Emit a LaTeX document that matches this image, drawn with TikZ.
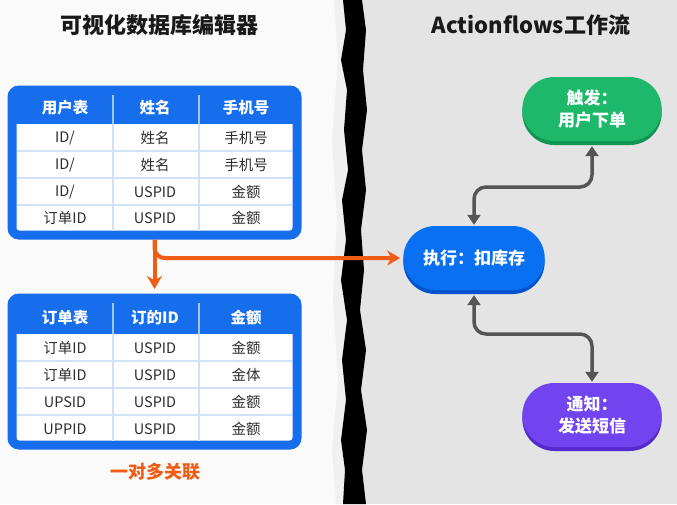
\documentclass[tikz,border=0pt]{standalone}
\usepackage{fontspec}
\setmainfont{Noto Sans CJK SC}
\usetikzlibrary{arrows.meta,shapes.misc,shadows}

\definecolor{tabblau}{RGB}{22,110,236}
\definecolor{zeilenlinie}{RGB}{208,226,250}
\definecolor{orangerot}{RGB}{240,92,20}
\definecolor{pfeilgrau}{RGB}{85,85,85}
\definecolor{gruen}{RGB}{30,184,106}
\definecolor{gruendunkel}{RGB}{16,150,82}
\definecolor{blau}{RGB}{10,112,242}
\definecolor{blaudunkel}{RGB}{0,82,205}
\definecolor{lila}{RGB}{114,68,240}
\definecolor{liladunkel}{RGB}{84,42,205}
\definecolor{papiergrau}{RGB}{228,228,228}
\definecolor{papierweiss}{RGB}{250,250,250}
\definecolor{textgrau}{RGB}{45,45,45}

\tikzset{
	tabrahmen/.style={draw=tabblau, line width=9pt, rounded corners=7pt,
		fill=white, minimum width=285pt, inner sep=0pt},
	kopf/.style={text=white, font=\bfseries\fontsize{15.5}{18}\selectfont},
	zelle/.style={text=textgrau, font=\fontsize{14.5}{17}\selectfont},
	titel/.style={text=black!90, font=\bfseries\fontsize{22}{26}\selectfont},
	schritt/.style={rounded rectangle, minimum width=146pt, minimum height=64pt,
		text=white, align=center, font=\bfseries\fontsize{17}{22}\selectfont},
	relation/.style={draw=orangerot, line width=4pt, rounded corners=10pt,
		-{Stealth[length=13pt,width=15pt]}},
	fluss/.style={draw=pfeilgrau, line width=3.5pt, rounded corners=12pt,
		{Triangle[length=10pt,width=13pt]}-{Triangle[length=10pt,width=13pt]}}
}

\begin{document}
\begin{tikzpicture}[x=1pt, y=-1pt]
	\useasboundingbox (0,0) rectangle (677,504);
	% Hintergrund
	\fill[papierweiss] (0,0) rectangle (352,504);
	\fill[papiergrau] (352,0) rectangle (677,504);
	\fill[black!6] (334,0) -- (338,60) -- (332,140) -- (337,220) -- (333,300)
		-- (338,380) -- (332,450) -- (336,504) -- (346,504) -- (346,0) -- cycle;
	% Riss in der Mitte
	\fill[black] (343,0) -- (346,30) -- (341,60) -- (347,90) -- (344,130)
		-- (348,170) -- (342,200) -- (346,240) -- (341,280) -- (347,320)
		-- (342,360) -- (346,400) -- (341,440) -- (345,470) -- (343,504)
		-- (366,504) -- (362,470) -- (367,430) -- (361,390) -- (366,350)
		-- (360,310) -- (364,270) -- (361,230) -- (366,190) -- (362,150)
		-- (367,110) -- (363,70) -- (366,30) -- (362,0) -- cycle;

	% Titel
	\node[titel] (linkstitel) at (159,25) {可视化数据库编辑器};
	\node[titel] (rechtstitel) at (531,25) {Actionflows工作流};

	% Tabelle Nutzer
	\node[tabrahmen, minimum height=145pt] (nutzer) at (154.5,162.5) {};
	\fill[tabblau] (12,90) rectangle (297,124);
	\foreach \y in {151,178,205}
		\draw[zeilenlinie, line width=1.5pt] (17,\y) -- (292,\y);
	\foreach \x in {113,199} {
		\draw[white!60!tabblau, line width=1.5pt] (\x,95) -- (\x,124);
		\draw[zeilenlinie, line width=1.5pt] (\x,124) -- (\x,231);
	}
	\node[kopf] (nutzer-0-1) at (65,108) {用户表};
	\node[kopf] (nutzer-0-2) at (155,108) {姓名};
	\node[kopf] (nutzer-0-3) at (246,108) {手机号};
	\foreach \r/\y/\a/\b/\c in {1/138/{ID/}/姓名/手机号, 2/165/{ID/}/姓名/手机号,
		3/192/{ID/}/USPID/金额, 4/218/订单ID/USPID/金额} {
		\node[zelle] (nutzer-\r-1) at (65,\y) {\a};
		\node[zelle] (nutzer-\r-2) at (155,\y) {\b};
		\node[zelle] (nutzer-\r-3) at (246,\y) {\c};
	}

	% Tabelle Bestellung
	\node[tabrahmen, minimum height=147pt] (bestellung) at (154.5,371.5) {};
	\fill[tabblau] (12,298) rectangle (297,334);
	\foreach \y in {361,388,415}
		\draw[zeilenlinie, line width=1.5pt] (17,\y) -- (292,\y);
	\foreach \x in {113,199} {
		\draw[white!60!tabblau, line width=1.5pt] (\x,303) -- (\x,334);
		\draw[zeilenlinie, line width=1.5pt] (\x,334) -- (\x,441);
	}
	\node[kopf] (bestellung-0-1) at (65,318) {订单表};
	\node[kopf] (bestellung-0-2) at (155,318) {订的ID};
	\node[kopf] (bestellung-0-3) at (246,318) {金额};
	\foreach \r/\y/\a/\b/\c in {1/348/订单ID/USPID/金额, 2/375/订单ID/USPID/金体,
		3/402/UPSID/USPID/金额, 4/429/UPPID/USPID/金额} {
		\node[zelle] (bestellung-\r-1) at (65,\y) {\a};
		\node[zelle] (bestellung-\r-2) at (155,\y) {\b};
		\node[zelle] (bestellung-\r-3) at (246,\y) {\c};
	}
	\node[text=orangerot, font=\bfseries\fontsize{18}{21}\selectfont]
		(kardinal) at (155,472) {一对多关联};

	% Workflow Schritte
	\node[schritt, fill=gruen,
		general shadow={fill=gruendunkel, shadow yshift=-4pt}]
		(ausloeser) at (592,109) {触发：\\用户下单};
	\node[schritt, fill=blau, minimum width=148pt,
		general shadow={fill=blaudunkel, shadow yshift=-4pt}]
		(ausfuehren) at (474,258) {执行：扣库存};
	\node[schritt, fill=lila,
		general shadow={fill=liladunkel, shadow yshift=-4pt}]
		(benachrichtigen) at (592,415) {通知：\\发送短信};

	% Verbindungen
	\coordinate (oben) at (533,187);
	\coordinate (unten) at (533,334);
	\draw[relation] (nutzer.south) -- ([yshift=4.5pt]bestellung.north);
	\draw[relation] (nutzer.south) |- ([xshift=-3pt]ausfuehren.west);
	\draw[fluss, shorten <=1pt, shorten >=5pt] (ausfuehren.north) |- (oben)
		-| (ausloeser.south);
	\draw[fluss, shorten <=5pt, shorten >=1pt] (ausfuehren.south) |- (unten)
		-| (benachrichtigen.north);
\end{tikzpicture}
\end{document}
